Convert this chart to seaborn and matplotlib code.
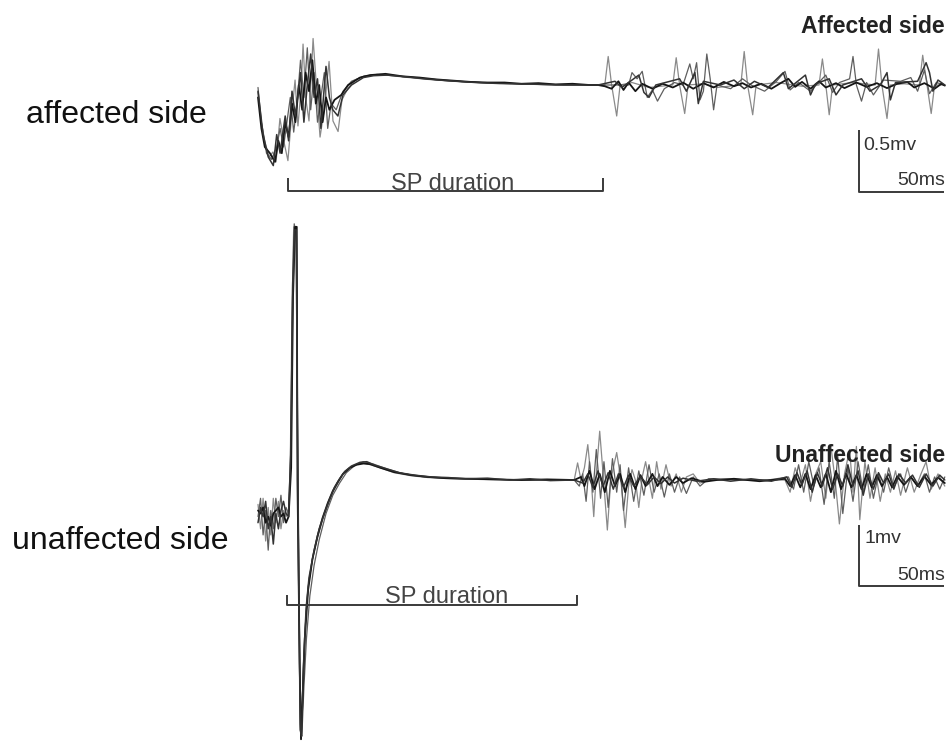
import matplotlib
matplotlib.use("Agg")
import matplotlib.pyplot as plt
import seaborn as sns
import pandas as pd

# ---------------- data (time in ms, amplitude in mV) ----------------
AFF_A = [(0,-0.06),(1.8,-0.29),(4.1,-0.46),(6.5,-0.58),(8.8,-0.54),(10.6,-0.62),(12.9,-0.27),(15.3,-0.46),
         (17.6,-0.61),(20,-0.21),(21.8,0.04),(23.5,-0.33),(25.3,-0.04),(26.5,0.33),(28.2,-0.12),(30,-0.29),
         (32.4,0.375),(34.7,-0.08),(36.5,-0.42),(38.8,-0.21),(41.8,0.19),(44.1,-0.29),(47.1,-0.375),(49.4,-0.12),
         (52.9,-0.025),(57.1,0.04),(63,0.075),(72,0.085),(85,0.065),(100,0.045),(120,0.025),(140,0.015),
         (165,0.005),(185,0.0),(200,0.0),(204,0.0),(206,0.23),(208,0.0),(211,-0.25),(213,0.0),(220,0.02),
         (230,-0.02),(244,0.0),(246,0.22),(248,0.0),(251,-0.23),(253,0.0),(262,0.01),(270,-0.02),(284,0.0),
         (286,0.27),(288,0.0),(291,-0.24),(293,0.0),(305,0.02),(320,-0.01),(330,0.0),(332,0.21),(334,0.0),
         (336,-0.24),(338,0.0),(350,0.02),(363,0.0),(365,0.29),(367,0.0),(370,-0.27),(372,0.0),(380,0.01),
         (389,0.0),(391,0.24),(393,0.05),(396,-0.23),(398,0.0),(404,0.0)]
AFF_B = [(0,-0.02),(2,-0.3),(5,-0.55),(8,-0.6),(11,-0.5),(13,-0.35),(15,-0.5),(17,-0.3),(19,-0.1),(21,-0.38),
         (23,-0.15),(25,0.2),(27,-0.1),(29,0.3),(31,-0.2),(33,0.1),(35,-0.3),(37,-0.1),(39,0.1),(41,-0.35),
         (43,-0.15),(46,-0.2),(50,-0.05),(55,0.03),(62,0.07),(70,0.085),(80,0.075),(95,0.055),(110,0.035),
         (130,0.02),(150,0.01),(175,0.0),(200,0.0),(218,0.0),(220,0.1),(223,0.05),(226,0.11),(229,-0.1),
         (232,-0.04),(235,-0.13),(239,-0.03),(245,0.02),(250,0.0),(254,0.17),(256,0.05),(258,0.18),(260,-0.12),
         (262,-0.05),(264,0.25),(266,0.05),(268,-0.2),(270,0.0),(278,-0.03),(285,0.05),(290,0.0),(298,-0.05),
         (305,0.03),(310,0.11),(313,-0.04),(318,0.02),(325,-0.05),(334,0.08),(338,-0.06),(342,0.02),(348,0.05),
         (350,0.23),(352,0.0),(355,-0.13),(358,0.02),(362,-0.08),(368,0.04),(378,0.03),(384,0.06),(388,-0.05),
         (392,0.12),(395,-0.07),(399,0.02),(404,0.0)]
AFF_C = [(0,-0.1),(2,-0.35),(4,-0.5),(7,-0.55),(10,-0.62),(12,-0.45),(14,-0.55),(16,-0.3),(18,-0.42),(20,-0.15),
         (22,-0.3),(24,0.0),(26,-0.2),(28,0.1),(30,-0.05),(32,0.2),(34,-0.15),(36,0.0),(38,-0.3),(40,-0.1),
         (42,-0.2),(45,-0.12),(49,-0.08),(53,0.0),(60,0.06),(66,0.08),(75,0.09),(85,0.07),(95,0.06),(105,0.045),
         (115,0.035),(125,0.025),(135,0.02),(145,0.02),(155,0.01),(165,0.015),(175,0.005),(185,0.01),(195,0.0),
         (200,0.0),(204,-0.01),(208,-0.03),(212,0.03),(215,-0.04),(218,0.02),(222,-0.05),(226,0.01),(232,-0.03),
         (238,0.01),(244,-0.02),(250,0.02),(256,-0.03),(262,0.015),(268,-0.02),(274,0.025),(280,-0.01),
         (285,0.015),(290,-0.02),(296,0.01),(302,-0.03),(308,0.02),(312,0.05),(316,-0.015),(320,0.025),
         (325,-0.03),(330,0.03),(334,-0.02),(340,0.015),(345,-0.025),(352,0.02),(358,-0.015),(364,0.015),
         (370,-0.025),(376,0.01),(382,0.025),(386,-0.02),(392,0.015),(398,-0.03),(402,0.01),(404,-0.005)]
AFF_D = [(0,-0.05),(3,-0.4),(6,-0.58),(9,-0.65),(11,-0.4),(13,-0.55),(16,-0.25),(18,-0.45),(20,-0.05),(22,-0.25),
         (25,0.1),(27,-0.3),(29,0.0),(31,0.25),(33,-0.1),(35,0.05),(37,-0.35),(40,0.15),(42,-0.1),(44,-0.2),
         (47,-0.25),(50,-0.08),(55,0.0),(62,0.06),(68,0.075),(76,0.08),(88,0.065),(98,0.05),(112,0.035),
         (128,0.02),(142,0.012),(160,0.008),(180,0.0),(200,0.0),(210,0.03),(214,-0.02),(224,0.08),(227,-0.06),
         (230,-0.1),(234,0.0),(248,0.05),(252,-0.05),(257,0.1),(259,-0.15),(262,0.03),(272,0.0),(280,0.04),
         (286,-0.03),(292,0.03),(300,-0.02),(306,0.06),(309,0.1),(312,-0.03),(322,0.08),(325,-0.08),(328,0.01),
         (336,0.05),(340,-0.08),(344,0.0),(355,0.05),(360,-0.05),(366,0.0),(370,0.1),(372,-0.12),(375,0.02),
         (388,0.03),(393,0.18),(395,0.1),(397,-0.05),(400,0.04),(404,0.0)]

UNA_A = [(0,-0.4),(1.5,-0.8),(3,-0.3),(4.5,-1.0),(6,-0.45),(7.5,-0.9),(9,-0.3),(10.5,-0.7),(12,-0.35),(13.5,-0.8),
         (15,-0.5),(16.5,-0.6),(18,-0.5),(19,0.3),(20,2.8),(21,4.15),(22.4,4.15),(23,1.5),(23.8,-1.5),(24.7,-4.0),
         (25.4,-4.25),(26.5,-3.2),(28,-2.3),(29.5,-1.75),(32,-1.3),(35,-0.95),(38,-0.65),(41,-0.42),(44,-0.2),
         (47,-0.05),(50,0.1),(54,0.2),(58,0.26),(62,0.28),(66,0.25),(72,0.2),(80,0.12),(90,0.07),(100,0.04),
         (115,0.02),(130,0.01),(160,0.0),(186,0.0),(188,0.28),(190,0.0),(192,0.2),(194,0.58),(196,0.0),
         (197.5,-0.6),(199,0.1),(201,0.8),(203,0.1),(205.5,-0.82),(207.5,0.0),(209,0.2),(211,0.45),(213.5,0.0),
         (216,-0.78),(218,-0.1),(220,0.17),(222,0.0),(224,-0.45),(226,0.05),(228,0.3),(230,0.0),(232,-0.3),
         (234.5,0.3),(237,-0.15),(240,0.25),(243,-0.1),(246,0.1),(249,-0.2),(252,0.05),(256,0.1),(260,-0.05),
         (265,0.0),(300,0.0),(310,0.0),(313,-0.2),(316,0.2),(319,-0.05),(322,0.25),(325,-0.35),(328,0.1),
         (331,0.3),(334,-0.3),(337,0.55),(339.5,0.0),(342,-0.72),(345,0.1),(348,0.5),(350,-0.2),(352,0.55),
         (354,-0.65),(357,0.3),(360,-0.3),(363,0.2),(366,-0.35),(369,0.1),(372,-0.2),(375,0.15),(378,-0.25),
         (382,0.2),(386,-0.2),(390,0.1),(393,0.3),(396,-0.15),(400,0.1),(404,-0.1)]
UNA_B = [(0,-0.6),(1.5,-0.3),(3,-0.9),(4.5,-0.5),(6,-1.15),(7.5,-0.5),(9,-0.8),(10.5,-0.3),(12,-0.6),(13.5,-0.25),
         (15,-0.7),(16.5,-0.45),(18,-0.55),(19.3,0.5),(20.3,3.2),(21.3,4.2),(22.6,4.0),(23.3,1.0),(24.2,-2.0),
         (25,-4.1),(25.8,-4.2),(27,-3.4),(28.5,-2.6),(30.5,-1.9),(33,-1.4),(36,-0.98),(40,-0.55),(44,-0.25),
         (48,-0.05),(52,0.12),(57,0.24),(62,0.3),(68,0.26),(76,0.18),(86,0.1),(98,0.05),(112,0.03),(130,0.01),
         (160,0.0),(186,0.0),(189,-0.1),(191,0.1),(193,-0.35),(195,0.3),(197,-0.2),(199,0.5),(201.5,-0.3),
         (203.5,0.3),(206,-0.45),(208.5,0.35),(211,-0.2),(213,0.25),(215,-0.5),(218,0.2),(221,-0.35),(224,0.15),
         (227,-0.25),(230,0.25),(233,-0.2),(236,0.1),(239,-0.28),(242,0.1),(245,-0.2),(248,0.05),(252,-0.22),
         (256,0.05),(260,-0.1),(265,0.02),(300,0.0),(312,0.05),(315,-0.15),(318,0.25),(321,-0.2),(324,0.3),
         (327,-0.1),(330,0.2),(333,-0.4),(336,0.3),(339,-0.3),(341,0.4),(344,-0.55),(347,0.2),(350,-0.35),
         (353,0.3),(356,-0.2),(359,0.25),(362,-0.3),(365,0.1),(368,-0.2),(371,0.2),(374,-0.12),(378,0.1),
         (381,-0.2),(384,0.05),(388,-0.1),(392,0.1),(395,-0.2),(398,0.05),(401,-0.15),(404,0.05)]
UNA_C = [(0,-0.5),(1.5,-0.55),(3,-0.45),(4.5,-0.7),(6,-0.6),(7.5,-0.75),(9,-0.55),(10.5,-0.5),(12,-0.45),
         (13.5,-0.6),(15,-0.55),(16.5,-0.7),(18,-0.6),(19.5,0.2),(20.6,3.0),(21.8,4.15),(22.8,4.15),(23.2,0.0),
         (24.5,-3.0),(25.3,-4.25),(26.2,-3.6),(27.5,-2.6),(29.5,-1.8),(32,-1.3),(35,-0.92),(38,-0.62),(41,-0.38),
         (44,-0.18),(47,-0.03),(50,0.1),(54,0.2),(58,0.25),(62,0.27),(66,0.26),(72,0.2),(80,0.13),(90,0.08),
         (100,0.05),(110,0.03),(125,0.02),(140,0.01),(155,0.0),(170,0.01),(186,0.0),(190,0.05),(192,-0.1),
         (195,0.15),(198,-0.15),(201,0.1),(204,-0.2),(207,0.15),(210,-0.1),(213,0.1),(216,-0.2),(219,0.1),
         (222,-0.15),(225,0.08),(228,-0.1),(232,0.1),(235,-0.1),(238,0.05),(242,-0.08),(246,0.05),(250,-0.05),
         (255,0.03),(262,-0.03),(270,0.0),(280,0.02),(295,-0.02),(310,0.02),(313,-0.1),(316,0.08),(319,-0.12),
         (322,0.1),(325,-0.15),(328,0.08),(331,-0.12),(334,0.1),(337,-0.2),(340,0.15),(343,-0.15),(346,0.1),
         (349,-0.12),(352,0.08),(355,-0.15),(358,0.1),(361,-0.12),(364,0.08),(367,-0.1),(370,0.05),(373,-0.12),
         (376,0.06),(380,-0.08),(384,0.05),(388,-0.1),(392,0.06),(396,-0.08),(400,0.04),(404,-0.05)]
UNA_D = [(0,-0.7),(1.5,-0.45),(3,-0.6),(4.5,-0.35),(6,-0.8),(7.5,-0.6),(9,-1.05),(10.5,-0.55),(12,-0.8),
         (13.5,-0.5),(15,-0.35),(16.5,-0.55),(18,-0.6),(19.2,0.4),(20.4,3.0),(21.5,4.1),(22.5,4.1),(23.1,1.2),
         (24,-1.8),(24.9,-4.1),(25.6,-4.2),(26.8,-3.0),(28.3,-2.1),(30,-1.6),(33,-1.15),(36,-0.8),(39,-0.55),
         (42,-0.32),(45,-0.12),(48,0.02),(51,0.14),(55,0.23),(60,0.29),(64,0.3),(69,0.24),(75,0.19),(83,0.12),
         (92,0.08),(102,0.05),(112,0.04),(122,0.02),(135,0.03),(148,0.0),(160,0.02),(172,-0.01),(186,0.0),
         (191,-0.05),(194,0.1),(197,-0.12),(200,0.15),(203,-0.1),(206,0.12),(209,-0.15),(212,0.1),(215,-0.12),
         (218,0.08),(221,-0.1),(225,0.06),(229,-0.08),(233,0.05),(237,-0.06),(241,0.05),(245,-0.05),(250,0.03),
         (258,-0.02),(268,0.02),(278,-0.02),(290,0.02),(302,-0.02),(311,0.05),(314,-0.12),(317,0.12),(320,-0.08),
         (323,0.15),(326,-0.2),(329,0.12),(332,-0.1),(335,0.2),(338,-0.15),(341,0.1),(344,-0.1),(347,0.25),
         (350,-0.1),(353,0.15),(356,-0.25),(359,0.1),(362,-0.15),(365,0.12),(368,-0.05),(371,0.1),(374,-0.15),
         (377,0.1),(381,-0.05),(385,0.08),(389,-0.12),(393,0.1),(397,-0.1),(401,0.08),(404,0.0)]

TRACE_NAMES = ["A", "B", "C", "D"]
TRACE_COLORS = {"A": "#8a8a8a", "B": "#5e5e5e", "C": "#151515", "D": "#333333"}
TRACE_WIDTHS = {"A": 0.9, "B": 0.9, "C": 1.3, "D": 1.1}

# SP duration brackets (ms) and scale bars (ms, mV)
SP_AFF = (17.6, 203.0)
SP_UNA = (17.1, 187.6)
BAR_T0 = 353.5
BAR_MS = 50
BAR_AFF_MV = 0.5
BAR_UNA_MV = 1.0

# ---------------- figure ----------------
sns.set_style("white")
plt.rcParams["font.family"] = ["Liberation Sans", "DejaVu Sans"]

W, H = 951, 741
fig = plt.figure(figsize=(W / 100, H / 100), dpi=100)

PX_PER_MS = 1.7
X0 = 258
xlim = (-X0 / PX_PER_MS, (W - X0) / PX_PER_MS)

# affected axes: pixel rows 0..220, baseline at row 85, 124 px per mV
ax1 = fig.add_axes([0, 1 - 220 / H, 1, 220 / H])
ax1.set_xlim(*xlim)
ax1.set_ylim((85 - 220) / 124, 85 / 124)
# unaffected axes: pixel rows 220..741, baseline at row 480, 61 px per mV
ax2 = fig.add_axes([0, 0, 1, 521 / H])
ax2.set_xlim(*xlim)
ax2.set_ylim((480 - 741) / 61, (480 - 220) / 61)


def make_df(traces):
    rows = []
    for name, tr in zip(TRACE_NAMES, traces):
        for t, v in tr:
            rows.append({"time": t, "amp": v, "trace": name})
    return pd.DataFrame(rows)


for ax, traces in ((ax1, [AFF_A, AFF_B, AFF_C, AFF_D]), (ax2, [UNA_A, UNA_B, UNA_C, UNA_D])):
    df = make_df(traces)
    for name in TRACE_NAMES:
        sub = df[df["trace"] == name]
        sns.lineplot(data=sub, x="time", y="amp", ax=ax, color=TRACE_COLORS[name],
                     linewidth=TRACE_WIDTHS[name], estimator=None, sort=False, legend=False)
    ax.axis("off")

bar_kw = dict(color="#3a3a3a", linewidth=1.4, solid_capstyle="butt")
# affected: SP bracket and scale bar
y_line, y_tick = (85 - 191) / 124, (85 - 178) / 124
ax1.plot([SP_AFF[0], SP_AFF[0], SP_AFF[1], SP_AFF[1]], [y_tick, y_line, y_line, y_tick], **bar_kw)
yb = (85 - 192) / 124
ax1.plot([BAR_T0, BAR_T0, BAR_T0 + BAR_MS], [yb + BAR_AFF_MV, yb, yb], **bar_kw)
# unaffected: SP bracket and scale bar
y_line, y_tick = (480 - 605) / 61, (480 - 595) / 61
ax2.plot([SP_UNA[0], SP_UNA[0], SP_UNA[1], SP_UNA[1]], [y_tick, y_line, y_line, y_tick], **bar_kw)
yb = (480 - 586) / 61
ax2.plot([BAR_T0, BAR_T0, BAR_T0 + BAR_MS], [yb + BAR_UNA_MV, yb, yb], **bar_kw)


def ftext(px, py, s, **kw):
    fig.text(px / W, 1 - py / H, s, va="baseline", **kw)


ftext(116, 123, "affected side", ha="center", fontsize=23, color="#111111")
ftext(120, 549, "unaffected side", ha="center", fontsize=23, color="#111111")
ftext(945, 33, "Affected side", ha="right", fontsize=16.5, fontweight="bold", color="#222222")
ftext(945, 462, "Unaffected side", ha="right", fontsize=16.5, fontweight="bold", color="#222222")
ftext(453, 190, "SP duration", ha="center", fontsize=17, color="#444444")
ftext(447, 603, "SP duration", ha="center", fontsize=17, color="#444444")
ftext(863, 150, "0.5mv", ha="left", fontsize=14, color="#333333")
ftext(945, 185, "50ms", ha="right", fontsize=14, color="#333333")
ftext(865, 543, "1mv", ha="left", fontsize=14, color="#333333")
ftext(945, 580, "50ms", ha="right", fontsize=14, color="#333333")

fig.savefig("out.png", dpi=100)
